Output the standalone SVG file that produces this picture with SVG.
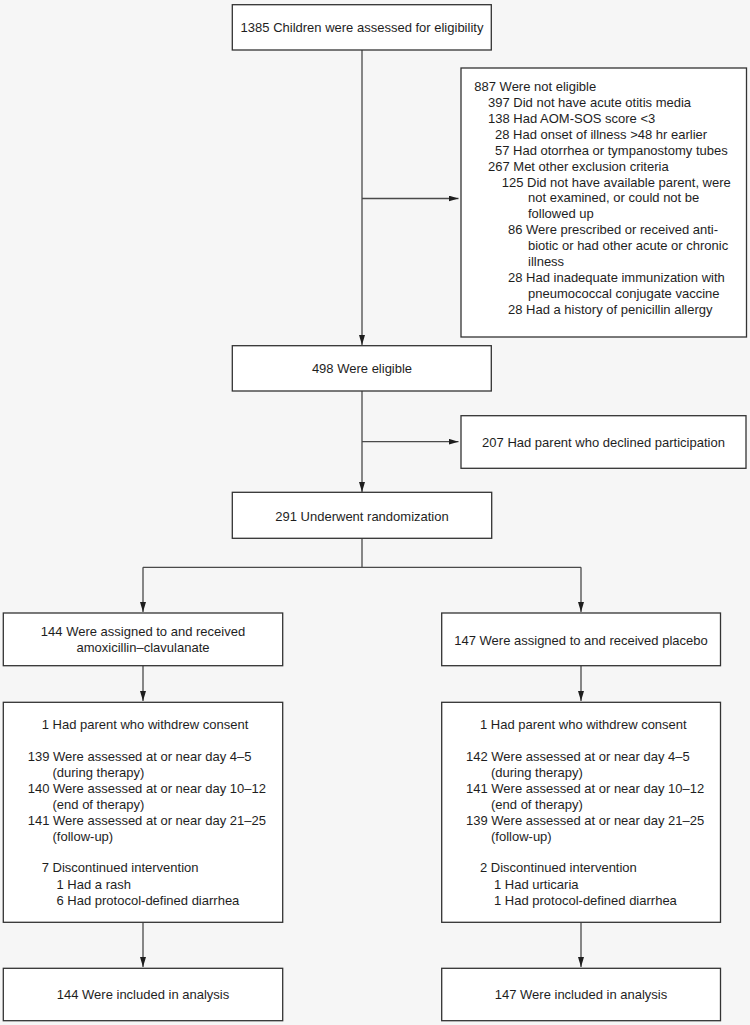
<svg xmlns="http://www.w3.org/2000/svg" width="750" height="1025" viewBox="0 0 750 1025">
<style>
.box{fill:#ffffff;stroke:#333333;stroke-width:1.3}
.ln{fill:none;stroke:#4a4a4a;stroke-width:1.3}
text{font-family:"Liberation Sans",Arial,sans-serif;font-size:13px;fill:#1e1e1e}
.c{text-anchor:middle}
</style>
<defs>
<marker id="ah" markerUnits="userSpaceOnUse" markerWidth="10" markerHeight="6" refX="10" refY="3" orient="auto">
<path d="M0,0 L10,3 L0,6 z" fill="#1e1e1e"/>
</marker>
</defs>
<rect x="0" y="0" width="750" height="1025" fill="#f6f6f6"/>
<g id="connectors">
<line class="ln" x1="362" y1="50" x2="362" y2="345" marker-end="url(#ah)"/>
<line class="ln" x1="362" y1="198.5" x2="458.5" y2="198.5" marker-end="url(#ah)"/>
<line class="ln" x1="362" y1="391" x2="362" y2="492" marker-end="url(#ah)"/>
<line class="ln" x1="362" y1="441.7" x2="458.5" y2="441.7" marker-end="url(#ah)"/>
<polyline class="ln" points="362,538 362,567.3"/>
<polyline class="ln" points="143,567.3 581,567.3"/>
<line class="ln" x1="143" y1="567.3" x2="143" y2="612" marker-end="url(#ah)"/>
<line class="ln" x1="581" y1="567.3" x2="581" y2="612" marker-end="url(#ah)"/>
<line class="ln" x1="143" y1="666" x2="143" y2="701" marker-end="url(#ah)"/>
<line class="ln" x1="581" y1="666" x2="581" y2="701" marker-end="url(#ah)"/>
<line class="ln" x1="143" y1="922.5" x2="143" y2="967" marker-end="url(#ah)"/>
<line class="ln" x1="581" y1="922.5" x2="581" y2="967" marker-end="url(#ah)"/>
</g>
<g id="assessed">
<rect class="box" x="232.3" y="4.7" width="259" height="45.3"/>
<text class="c" x="362" y="32.2">1385 Children were assessed for eligibility</text>
</g>
<g id="not-eligible">
<rect class="box" x="461" y="68" width="285.5" height="269"/>
<text x="474.3" y="91.2">887 Were not eligible</text>
<text x="488" y="107.1">397 Did not have acute otitis media</text>
<text x="488" y="123">138 Had AOM-SOS score &lt;3</text>
<text x="495" y="138.8">28 Had onset of illness &gt;48 hr earlier</text>
<text x="495" y="154.7">57 Had otorrhea or tympanostomy tubes</text>
<text x="488" y="170.6">267 Met other exclusion criteria</text>
<text x="501.7" y="186.5">125 Did not have available parent, were</text>
<text x="528" y="202.4">not examined, or could not be</text>
<text x="528" y="218.3">followed up</text>
<text x="508" y="234.2">86 Were prescribed or received anti-</text>
<text x="528" y="250.1">biotic or had other acute or chronic</text>
<text x="528" y="266">illness</text>
<text x="508" y="281.9">28 Had inadequate immunization with</text>
<text x="528" y="297.8">pneumococcal conjugate vaccine</text>
<text x="508" y="313.7">28 Had a history of penicillin allergy</text>
</g>
<g id="eligible">
<rect class="box" x="232.3" y="345.7" width="259" height="45.3"/>
<text class="c" x="362" y="372.5">498 Were eligible</text>
</g>
<g id="declined">
<rect class="box" x="461" y="415.7" width="285" height="52.6"/>
<text class="c" x="603.5" y="446.8">207 Had parent who declined participation</text>
</g>
<g id="randomized">
<rect class="box" x="232.3" y="492.3" width="259.4" height="46"/>
<text class="c" x="362" y="520.5">291 Underwent randomization</text>
</g>
<g id="assigned-amox">
<rect class="box" x="3.3" y="613" width="279.4" height="52.7"/>
<text class="c" x="143" y="635.5">144 Were assigned to and received</text>
<text class="c" x="143" y="652.2">amoxicillin–clavulanate</text>
</g>
<g id="assigned-placebo">
<rect class="box" x="441.7" y="613" width="278.8" height="52.7"/>
<text class="c" x="581" y="644.5">147 Were assigned to and received placebo</text>
</g>
<g id="followup-amox">
<rect class="box" x="3.3" y="702.3" width="279.4" height="220"/>
<text x="41.7" y="728.8">1 Had parent who withdrew consent</text>
<text x="27.7" y="761.2">139 Were assessed at or near day 4–5</text>
<text x="52.5" y="777.2">(during therapy)</text>
<text x="27.7" y="792.8">140 Were assessed at or near day 10–12</text>
<text x="52.5" y="809.2">(end of therapy)</text>
<text x="27.7" y="824.5">141 Were assessed at or near day 21–25</text>
<text x="52.5" y="840.8">(follow-up)</text>
<text x="41.7" y="872.2">7 Discontinued intervention</text>
<text x="56.5" y="888.5">1 Had a rash</text>
<text x="56.5" y="904.5">6 Had protocol-defined diarrhea</text>
</g>
<g id="followup-placebo">
<rect class="box" x="441.7" y="702.3" width="278.8" height="220"/>
<text x="480" y="728.8">1 Had parent who withdrew consent</text>
<text x="466" y="761.2">142 Were assessed at or near day 4–5</text>
<text x="491" y="777.2">(during therapy)</text>
<text x="466" y="792.8">141 Were assessed at or near day 10–12</text>
<text x="491" y="809.2">(end of therapy)</text>
<text x="466" y="824.5">139 Were assessed at or near day 21–25</text>
<text x="491" y="840.8">(follow-up)</text>
<text x="480" y="872.2">2 Discontinued intervention</text>
<text x="494" y="888.5">1 Had urticaria</text>
<text x="494" y="904.5">1 Had protocol-defined diarrhea</text>
</g>
<g id="analysis-amox">
<rect class="box" x="3.3" y="968.3" width="279.4" height="52.4"/>
<text class="c" x="143" y="998.5">144 Were included in analysis</text>
</g>
<g id="analysis-placebo">
<rect class="box" x="441.7" y="968.3" width="278.8" height="52.4"/>
<text class="c" x="581" y="998.5">147 Were included in analysis</text>
</g>
</svg>
